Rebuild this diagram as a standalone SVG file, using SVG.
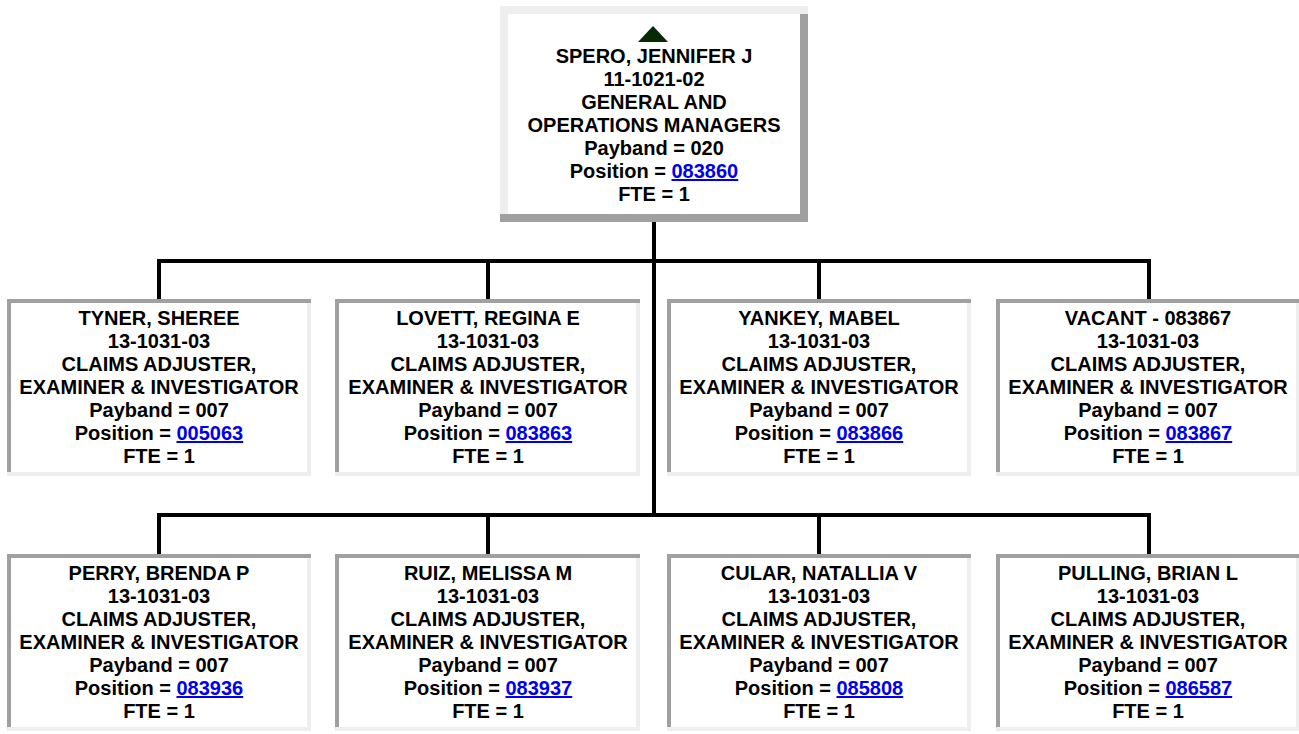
<svg xmlns="http://www.w3.org/2000/svg" width="1299" height="734" viewBox="0 0 1299 734">
<style>
.lt{fill:#eeeeee}
.dk{fill:#a0a0a0}
.wh{fill:#ffffff}
text{font-family:"Liberation Sans",Arial,sans-serif;font-weight:bold;font-size:20px;fill:#000;text-anchor:middle}
.lnk{fill:#0000ee;text-decoration:underline}
.con{stroke:#000;stroke-width:4;fill:none}
</style>
<rect x="0" y="0" width="1299" height="734" fill="#ffffff"/>
<g id="connectors">
<path class="con" d="M654 222V517M157 261H1151M159 261V299M488 261V299M819 261V299M1149 261V299M157 515H1151M159 515V554M488 515V554M819 515V554M1149 515V554"/>
</g>
<g id="n-spero">
<rect class="lt" x="500" y="6" width="308" height="216"/>
<rect class="dk" x="800" y="14" width="8" height="208"/>
<rect class="dk" x="500" y="214" width="308" height="8"/>
<rect class="wh" x="508" y="14" width="292" height="200"/>
<polygon points="653,26 638,42 668,42" fill="#062a06"/>
<text x="654" y="63">SPERO, JENNIFER J</text>
<text x="654" y="86">11-1021-02</text>
<text x="654" y="109">GENERAL AND</text>
<text x="654" y="132">OPERATIONS MANAGERS</text>
<text x="654" y="155">Payband = 020</text>
<text x="654" y="178">Position = <tspan class="lnk">083860</tspan></text>
<text x="654" y="201">FTE = 1</text>
</g>
<g id="n-tyner">
<rect class="lt" x="7" y="299" width="304" height="177"/>
<rect class="dk" x="7" y="299" width="304" height="4"/>
<rect class="dk" x="7" y="299" width="4" height="173"/>
<rect class="wh" x="11" y="303" width="296" height="169"/>
<text x="159" y="325">TYNER, SHEREE</text>
<text x="159" y="348">13-1031-03</text>
<text x="159" y="371">CLAIMS ADJUSTER,</text>
<text x="159" y="394">EXAMINER &amp; INVESTIGATOR</text>
<text x="159" y="417">Payband = 007</text>
<text x="159" y="440">Position = <tspan class="lnk">005063</tspan></text>
<text x="159" y="463">FTE = 1</text>
</g>
<g id="n-lovett">
<rect class="lt" x="335" y="299" width="305" height="177"/>
<rect class="dk" x="335" y="299" width="305" height="4"/>
<rect class="dk" x="335" y="299" width="4" height="173"/>
<rect class="wh" x="339" y="303" width="297" height="169"/>
<text x="488" y="325">LOVETT, REGINA E</text>
<text x="488" y="348">13-1031-03</text>
<text x="488" y="371">CLAIMS ADJUSTER,</text>
<text x="488" y="394">EXAMINER &amp; INVESTIGATOR</text>
<text x="488" y="417">Payband = 007</text>
<text x="488" y="440">Position = <tspan class="lnk">083863</tspan></text>
<text x="488" y="463">FTE = 1</text>
</g>
<g id="n-yankey">
<rect class="lt" x="667" y="299" width="304" height="177"/>
<rect class="dk" x="667" y="299" width="304" height="4"/>
<rect class="dk" x="667" y="299" width="4" height="173"/>
<rect class="wh" x="671" y="303" width="296" height="169"/>
<text x="819" y="325">YANKEY, MABEL</text>
<text x="819" y="348">13-1031-03</text>
<text x="819" y="371">CLAIMS ADJUSTER,</text>
<text x="819" y="394">EXAMINER &amp; INVESTIGATOR</text>
<text x="819" y="417">Payband = 007</text>
<text x="819" y="440">Position = <tspan class="lnk">083866</tspan></text>
<text x="819" y="463">FTE = 1</text>
</g>
<g id="n-vacant">
<rect class="lt" x="996" y="299" width="304" height="177"/>
<rect class="dk" x="996" y="299" width="304" height="4"/>
<rect class="dk" x="996" y="299" width="4" height="173"/>
<rect class="wh" x="1000" y="303" width="296" height="169"/>
<text x="1148" y="325">VACANT - 083867</text>
<text x="1148" y="348">13-1031-03</text>
<text x="1148" y="371">CLAIMS ADJUSTER,</text>
<text x="1148" y="394">EXAMINER &amp; INVESTIGATOR</text>
<text x="1148" y="417">Payband = 007</text>
<text x="1148" y="440">Position = <tspan class="lnk">083867</tspan></text>
<text x="1148" y="463">FTE = 1</text>
</g>
<g id="n-perry">
<rect class="lt" x="7" y="554" width="304" height="177"/>
<rect class="dk" x="7" y="554" width="304" height="4"/>
<rect class="dk" x="7" y="554" width="4" height="173"/>
<rect class="wh" x="11" y="558" width="296" height="169"/>
<text x="159" y="580">PERRY, BRENDA P</text>
<text x="159" y="603">13-1031-03</text>
<text x="159" y="626">CLAIMS ADJUSTER,</text>
<text x="159" y="649">EXAMINER &amp; INVESTIGATOR</text>
<text x="159" y="672">Payband = 007</text>
<text x="159" y="695">Position = <tspan class="lnk">083936</tspan></text>
<text x="159" y="718">FTE = 1</text>
</g>
<g id="n-ruiz">
<rect class="lt" x="335" y="554" width="305" height="177"/>
<rect class="dk" x="335" y="554" width="305" height="4"/>
<rect class="dk" x="335" y="554" width="4" height="173"/>
<rect class="wh" x="339" y="558" width="297" height="169"/>
<text x="488" y="580">RUIZ, MELISSA M</text>
<text x="488" y="603">13-1031-03</text>
<text x="488" y="626">CLAIMS ADJUSTER,</text>
<text x="488" y="649">EXAMINER &amp; INVESTIGATOR</text>
<text x="488" y="672">Payband = 007</text>
<text x="488" y="695">Position = <tspan class="lnk">083937</tspan></text>
<text x="488" y="718">FTE = 1</text>
</g>
<g id="n-cular">
<rect class="lt" x="667" y="554" width="304" height="177"/>
<rect class="dk" x="667" y="554" width="304" height="4"/>
<rect class="dk" x="667" y="554" width="4" height="173"/>
<rect class="wh" x="671" y="558" width="296" height="169"/>
<text x="819" y="580">CULAR, NATALLIA V</text>
<text x="819" y="603">13-1031-03</text>
<text x="819" y="626">CLAIMS ADJUSTER,</text>
<text x="819" y="649">EXAMINER &amp; INVESTIGATOR</text>
<text x="819" y="672">Payband = 007</text>
<text x="819" y="695">Position = <tspan class="lnk">085808</tspan></text>
<text x="819" y="718">FTE = 1</text>
</g>
<g id="n-pulling">
<rect class="lt" x="996" y="554" width="304" height="177"/>
<rect class="dk" x="996" y="554" width="304" height="4"/>
<rect class="dk" x="996" y="554" width="4" height="173"/>
<rect class="wh" x="1000" y="558" width="296" height="169"/>
<text x="1148" y="580">PULLING, BRIAN L</text>
<text x="1148" y="603">13-1031-03</text>
<text x="1148" y="626">CLAIMS ADJUSTER,</text>
<text x="1148" y="649">EXAMINER &amp; INVESTIGATOR</text>
<text x="1148" y="672">Payband = 007</text>
<text x="1148" y="695">Position = <tspan class="lnk">086587</tspan></text>
<text x="1148" y="718">FTE = 1</text>
</g>
</svg>
